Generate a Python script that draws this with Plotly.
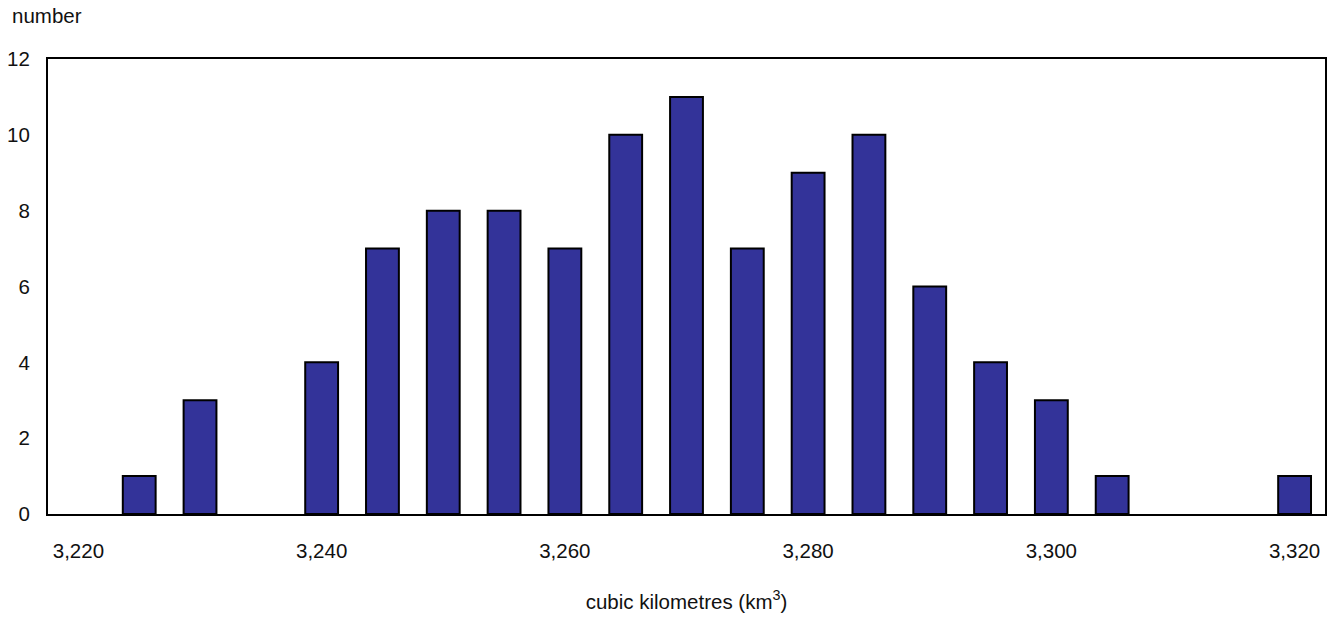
import plotly.graph_objects as go

# Distribution of annual volumes (cubic kilometres), 5 km3 bins
bin_centres = [3220, 3225, 3230, 3235, 3240, 3245, 3250, 3255, 3260, 3265, 3270,
               3275, 3280, 3285, 3290, 3295, 3300, 3305, 3310, 3315, 3320]
counts = [0, 1, 3, 0, 4, 7, 8, 8, 7, 10, 11, 7, 9, 10, 6, 4, 3, 1, 0, 0, 1]

x_tick_vals = [3220, 3240, 3260, 3280, 3300, 3320]
x_tick_text = ["3,220", "3,240", "3,260", "3,280", "3,300", "3,320"]
y_tick_vals = [0, 2, 4, 6, 8, 10, 12]

FONT = "Liberation Sans, Arial, Helvetica, sans-serif"
FS = 20.5

# empty bins get no outline so nothing is drawn for them
outline_widths = [2 if c > 0 else 0 for c in counts]

fig = go.Figure(
    go.Bar(
        x=bin_centres,
        y=counts,
        width=2.7,
        marker=dict(color="#333399",
                    line=dict(color="#000000", width=outline_widths)),
        hoverinfo="x+y",
    )
)

fig.update_layout(
    width=1330,
    height=618,
    margin=dict(l=48, r=3, t=59, b=104),
    paper_bgcolor="white",
    plot_bgcolor="white",
    font=dict(family=FONT, size=FS, color="#111111"),
    showlegend=False,
    xaxis=dict(
        range=[3217.5, 3322.5],
        tickvals=x_tick_vals,
        ticktext=x_tick_text,
        tickfont=dict(size=FS),
        showgrid=False,
        zeroline=False,
        showline=True,
        linecolor="black",
        linewidth=2,
        mirror=True,
        ticks="",
        ticklabelstandoff=17,
        title=dict(text="cubic kilometres (km<sup>3</sup>)", standoff=34,
                   font=dict(size=FS)),
    ),
    yaxis=dict(
        range=[0, 12],
        tickvals=y_tick_vals,
        tickfont=dict(size=FS),
        showgrid=False,
        zeroline=False,
        showline=True,
        linecolor="black",
        linewidth=2,
        mirror=True,
        ticks="",
        ticklabelstandoff=12,
    ),
    annotations=[
        dict(text="number", xref="paper", yref="paper", x=-48 / 1279, y=1,
             yshift=44, xshift=10, xanchor="left", yanchor="middle",
             showarrow=False, font=dict(size=FS)),
    ],
)

fig.write_html("out.html")
